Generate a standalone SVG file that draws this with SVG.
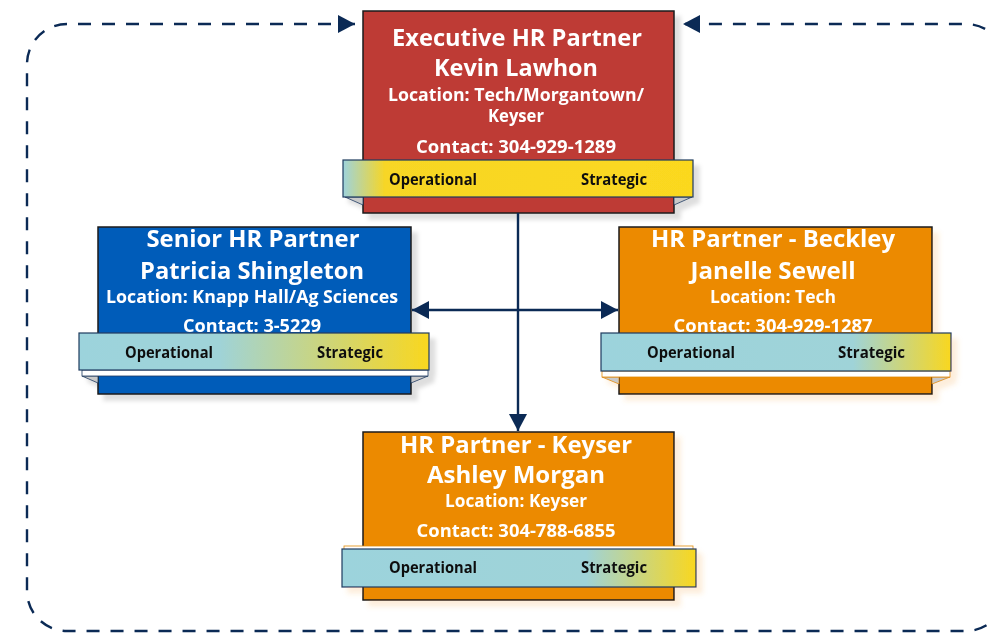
<svg xmlns="http://www.w3.org/2000/svg" width="990" height="633" viewBox="0 0 990 633">
<defs>
<style>
.box{stroke:#1b1b1b;stroke-width:1.5}
.t{font-family:"Open Sans","Noto Sans","Liberation Sans",sans-serif;font-weight:700;fill:#ffffff;text-anchor:middle}
.big{font-size:24px}
.sm{font-size:17px}
.bt{font-family:"Open Sans","Noto Sans","Liberation Sans",sans-serif;font-weight:700;font-size:16px;fill:#111111}
.band{stroke:#1f3a5f;stroke-width:1.2}
.fold{fill:#c9c9c9;stroke:#1f3a5f;stroke-width:0.8}
.foldo{fill:#c9c9c9;stroke:#e08a10;stroke-width:0.8}
.conn{fill:none;stroke:#0b2a55;stroke-width:2.4}
</style>
<linearGradient id="gExec" x1="0" y1="0" x2="1" y2="0">
<stop offset="0" stop-color="#9ed3dc"/><stop offset="0.12" stop-color="#f7d625"/><stop offset="1" stop-color="#fbd81f"/>
</linearGradient>
<linearGradient id="gSen" x1="0" y1="0" x2="1" y2="0">
<stop offset="0" stop-color="#9cd3dc"/><stop offset="0.4" stop-color="#9fd3d8"/><stop offset="1" stop-color="#f9d71f"/>
</linearGradient>
<linearGradient id="gBeck" x1="0" y1="0" x2="1" y2="0">
<stop offset="0" stop-color="#9cd3dc"/><stop offset="0.72" stop-color="#9fd3d8"/><stop offset="1" stop-color="#f9d71f"/>
</linearGradient>
<linearGradient id="gKey" x1="0" y1="0" x2="1" y2="0">
<stop offset="0" stop-color="#9cd3dc"/><stop offset="0.69" stop-color="#9fd3d8"/><stop offset="1" stop-color="#f9d71f"/>
</linearGradient>
<filter id="shGray" x="-10%" y="-10%" width="130%" height="130%">
<feDropShadow dx="6" dy="6" stdDeviation="2" flood-color="#000000" flood-opacity="0.13"/>
</filter>
<filter id="shOr" x="-10%" y="-10%" width="130%" height="130%">
<feDropShadow dx="6" dy="6" stdDeviation="2.5" flood-color="#f2a040" flood-opacity="0.18"/>
</filter>
<marker id="arr" viewBox="0 0 10 10" refX="10" refY="5" markerWidth="17" markerHeight="18" markerUnits="userSpaceOnUse" orient="auto-start-reverse" preserveAspectRatio="none">
<path d="M0,0 L10,5 L0,10 z" fill="#0b2a55"/>
</marker>
</defs>
<rect width="990" height="633" fill="#ffffff"/>

<g id="exec" filter="url(#shGray)">
<rect class="box" x="363" y="11" width="311" height="202" fill="#be3a34"/>
<text class="t big" x="517" y="46" textLength="250" lengthAdjust="spacingAndGlyphs">Executive HR Partner</text>
<text class="t big" x="516" y="76" textLength="164" lengthAdjust="spacingAndGlyphs">Kevin Lawhon</text>
<text class="t sm" x="516" y="101" textLength="256" lengthAdjust="spacingAndGlyphs">Location: Tech/Morgantown/</text>
<text class="t sm" x="516" y="122" textLength="56" lengthAdjust="spacingAndGlyphs">Keyser</text>
<text class="t sm" x="516" y="153" textLength="200" lengthAdjust="spacingAndGlyphs">Contact: 304-929-1289</text>
<polygon class="fold" points="345,197 363,197 363,205"/>
<polygon class="fold" points="692,197 674,197 674,205"/>
<rect class="band" x="343" y="160" width="350" height="37" fill="url(#gExec)"/>
<text class="bt" x="389" y="185" textLength="88" lengthAdjust="spacingAndGlyphs">Operational</text>
<text class="bt" x="581" y="185" textLength="66" lengthAdjust="spacingAndGlyphs">Strategic</text>
</g>

<g id="senior" filter="url(#shGray)">
<rect class="box" x="98" y="227" width="313" height="167" fill="#055bb9"/>
<text class="t big" x="253" y="247" textLength="213" lengthAdjust="spacingAndGlyphs">Senior HR Partner</text>
<text class="t big" x="252" y="279" textLength="224" lengthAdjust="spacingAndGlyphs">Patricia Shingleton</text>
<text class="t sm" x="252" y="303" textLength="292" lengthAdjust="spacingAndGlyphs">Location: Knapp Hall/Ag Sciences</text>
<text class="t sm" x="252" y="332" textLength="138" lengthAdjust="spacingAndGlyphs">Contact: 3-5229</text>
<polygon class="fold" points="82,376 98,376 98,383"/>
<polygon class="fold" points="428,376 411,376 411,383"/>
<rect x="82" y="370" width="346" height="6" fill="#ffffff" stroke="#1f3a5f" stroke-width="0.8"/>
<rect class="band" x="79" y="333" width="350" height="37" fill="url(#gSen)"/>
<text class="bt" x="125" y="358" textLength="88" lengthAdjust="spacingAndGlyphs">Operational</text>
<text class="bt" x="317" y="358" textLength="66" lengthAdjust="spacingAndGlyphs">Strategic</text>
</g>

<g id="beckley" filter="url(#shOr)">
<rect class="box" x="619" y="227" width="313" height="167" fill="#ec8a00"/>
<text class="t big" x="773" y="247" textLength="244" lengthAdjust="spacingAndGlyphs">HR Partner - Beckley</text>
<text class="t big" x="773" y="279" textLength="165" lengthAdjust="spacingAndGlyphs">Janelle Sewell</text>
<text class="t sm" x="773" y="303" textLength="126" lengthAdjust="spacingAndGlyphs">Location: Tech</text>
<text class="t sm" x="773" y="332" textLength="199" lengthAdjust="spacingAndGlyphs">Contact: 304-929-1287</text>
<polygon class="foldo" points="602,377 619,377 619,384"/>
<polygon class="foldo" points="950,377 932,377 932,384"/>
<rect x="602" y="371" width="348" height="6" fill="#ffffff" stroke="#e08a10" stroke-width="0.8"/>
<rect class="band" x="601" y="333" width="350" height="38" fill="url(#gBeck)"/>
<text class="bt" x="647" y="358" textLength="88" lengthAdjust="spacingAndGlyphs">Operational</text>
<text class="bt" x="838" y="358" textLength="67" lengthAdjust="spacingAndGlyphs">Strategic</text>
</g>

<g id="keyser" filter="url(#shOr)">
<rect class="box" x="363" y="432" width="311" height="168" fill="#ec8a00"/>
<text class="t big" x="516" y="453" textLength="232" lengthAdjust="spacingAndGlyphs">HR Partner - Keyser</text>
<text class="t big" x="516" y="483" textLength="178" lengthAdjust="spacingAndGlyphs">Ashley Morgan</text>
<text class="t sm" x="516" y="507" textLength="142" lengthAdjust="spacingAndGlyphs">Location: Keyser</text>
<text class="t sm" x="516" y="537" textLength="199" lengthAdjust="spacingAndGlyphs">Contact: 304-788-6855</text>
<rect x="344" y="546" width="349" height="6" fill="#ffffff" stroke="#e08a10" stroke-width="0.8"/>
<rect class="band" x="342" y="549" width="354" height="38" fill="url(#gKey)"/>
<text class="bt" x="389" y="573" textLength="88" lengthAdjust="spacingAndGlyphs">Operational</text>
<text class="bt" x="581" y="573" textLength="66" lengthAdjust="spacingAndGlyphs">Strategic</text>
</g>

<g id="connectors">
<path class="conn" stroke-dasharray="13 11" d="M355,24 H67 A40,40 0 0 0 27,64 V591 A40,40 0 0 0 67,631 H966 A40,40 0 0 0 1006,591 V64 A40,40 0 0 0 966,24 H683" marker-start="url(#arr)" marker-end="url(#arr)"/>
<path class="conn" d="M518,213 V431" marker-end="url(#arr)"/>
<path class="conn" d="M412,310 H618" marker-start="url(#arr)" marker-end="url(#arr)"/>
</g>
</svg>
